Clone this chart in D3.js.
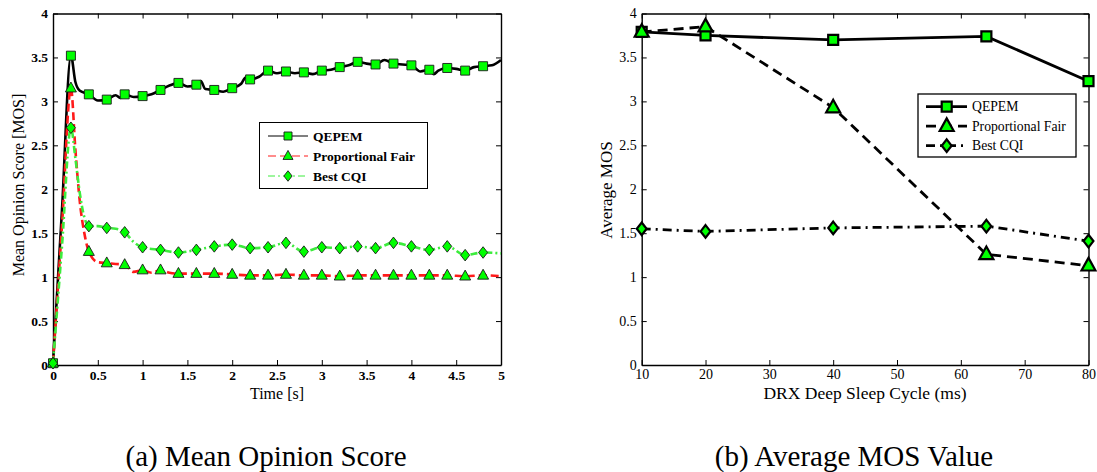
<!DOCTYPE html>
<html>
<head>
<meta charset="utf-8">
<script src="https://cdn.jsdelivr.net/npm/d3@7"></script>
<style>
  body { margin: 0; background: #fff; }
  svg { display: block; }
  text { font-family: "Liberation Serif", "Times New Roman", serif; fill: #000; }
</style>
</head>
<body>
<svg id="chart" width="1097" height="472"></svg>
<script>
// ---------- DATA: (a) Mean Opinion Score over time ----------
const seriesNames = ["QEPEM", "Proportional Fair", "Best CQI"];

const qepemTime = [0,0.1,0.2,0.25,0.3,0.4,0.5,0.6,0.7,0.75,0.8,0.9,1.0,1.1,1.2,1.3,1.4,1.5,1.6,1.65,1.7,1.8,1.9,2.0,2.1,2.15,2.2,2.3,2.4,2.5,2.6,2.7,2.8,2.9,3.0,3.1,3.2,3.3,3.4,3.5,3.6,3.7,3.8,3.9,4.0,4.1,4.2,4.25,4.3,4.4,4.5,4.6,4.7,4.8,4.9,5.0];
const qepemMos  = [0.02,1.76,3.52,3.22,3.12,3.08,3.01,3.02,3.07,3.04,3.08,3.05,3.06,3.08,3.13,3.18,3.21,3.17,3.19,3.23,3.14,3.13,3.11,3.15,3.20,3.27,3.25,3.28,3.35,3.32,3.34,3.32,3.33,3.31,3.35,3.36,3.39,3.41,3.45,3.43,3.42,3.47,3.43,3.42,3.41,3.34,3.36,3.31,3.35,3.38,3.37,3.35,3.39,3.40,3.41,3.47];

const pfTime = [0,0.1,0.2,0.25,0.3,0.35,0.4,0.5,0.6,0.7,0.8,0.9,1.0,1.1,1.2,1.3,1.4,1.6,1.8,2.0,2.2,2.4,2.6,2.8,3.0,3.2,3.4,3.6,3.8,4.0,4.2,4.4,4.6,4.8,5.0];
const pfMos  = [0.02,1.58,3.15,2.45,1.85,1.50,1.29,1.17,1.16,1.15,1.14,1.06,1.08,1.05,1.08,1.05,1.04,1.04,1.04,1.03,1.02,1.02,1.03,1.02,1.02,1.01,1.02,1.02,1.02,1.02,1.02,1.02,1.01,1.02,1.01];

const cqiTime = [0,0.1,0.2,0.25,0.3,0.35,0.4,0.5,0.6,0.7,0.8,0.9,1.0,1.2,1.4,1.6,1.8,2.0,2.2,2.4,2.6,2.8,3.0,3.2,3.4,3.6,3.8,4.0,4.2,4.4,4.6,4.8,5.0];
const cqiMos  = [0.02,1.35,2.70,2.35,1.95,1.68,1.58,1.58,1.56,1.55,1.51,1.40,1.34,1.31,1.28,1.31,1.35,1.37,1.33,1.34,1.39,1.29,1.34,1.33,1.35,1.33,1.39,1.35,1.31,1.35,1.25,1.28,1.27];

const timeTicks = [0,0.5,1,1.5,2,2.5,3,3.5,4,4.5,5];
const mosTicks  = [0,0.5,1,1.5,2,2.5,3,3.5,4];

// ---------- DATA: (b) Average MOS vs DRX deep sleep cycle ----------
const drxCycle   = [10, 20, 40, 64, 80];
const avgQepem   = [3.79, 3.75, 3.70, 3.74, 3.23];
const avgPf      = [3.79, 3.85, 2.93, 1.26, 1.13];
const avgCqi     = [1.55, 1.52, 1.56, 1.58, 1.41];
const drxTicks   = [10,20,30,40,50,60,70,80];

const captionA = "(a) Mean Opinion Score";
const captionB = "(b) Average MOS Value";

// ---------- helpers ----------
const svg = d3.select("#chart");
const GREEN = "#00ff00";

function markerPath(type, s) {
  if (type === "square") return `M${-s/2},${-s/2}h${s}v${s}h${-s}Z`;
  if (type === "triangle") { const h = s * 0.9; return `M0,${-h*0.62}L${s/2},${h*0.38}L${-s/2},${h*0.38}Z`; }
  if (type === "diamond") { const w = s*0.82, h = s*1.05; return `M0,${-h/2}L${w/2},0L0,${h/2}L${-w/2},0Z`; }
}
function onGrid(t) { return Math.abs(t*5 - Math.round(t*5)) < 1e-6 && t < 4.99; }

function frame(g, x, y, xTicks, yTicks, bold, fmtX, fmtY, fs, padX) {
  const [x0, x1] = x.range(), [y0, y1] = y.range();
  const gx = g.append("g").attr("transform", `translate(0,${y0})`)
    .call(d3.axisBottom(x).tickValues(xTicks).tickSizeInner(-5).tickSizeOuter(0).tickPadding(padX).tickFormat(fmtX));
  const gy = g.append("g").attr("transform", `translate(${x0},0)`)
    .call(d3.axisLeft(y).tickValues(yTicks).tickSizeInner(-5).tickSizeOuter(0).tickPadding(5).tickFormat(fmtY));
  g.append("g").attr("transform", `translate(0,${y1})`)
    .call(d3.axisTop(x).tickValues(xTicks).tickSizeInner(-5).tickSizeOuter(0).tickFormat(""));
  g.append("g").attr("transform", `translate(${x1},0)`)
    .call(d3.axisRight(y).tickValues(yTicks).tickSizeInner(-5).tickSizeOuter(0).tickFormat(""));
  g.selectAll(".domain").attr("stroke", "#000").attr("stroke-width", 1.4);
  g.selectAll(".tick line").attr("stroke", "#000").attr("stroke-width", 1);
  [gx, gy].forEach(a => a.selectAll("text")
    .style("font-family", '"Liberation Serif", serif')
    .style("font-size", fs + "px")
    .style("font-weight", bold ? "bold" : "normal")
    .attr("fill", "#000"));
}

// ---------- Chart (a) ----------
{
  const x = d3.scaleLinear().domain([0, 5]).range([53, 501]);
  const y = d3.scaleLinear().domain([0, 4]).range([365, 13.5]);
  const g = svg.append("g");
  frame(g, x, y, timeTicks, mosTicks, true, d3.format("~g"), d3.format("~g"), 13.5, 5);

  const series = [
    { name: seriesNames[0], t: qepemTime, v: qepemMos, color: "#000", dash: null, marker: "square", ms: 9, lw: 2.6 },
    { name: seriesNames[1], t: pfTime, v: pfMos, color: "#ff1a1a", dash: "8,4", marker: "triangle", ms: 11, lw: 2.6 },
    { name: seriesNames[2], t: cqiTime, v: cqiMos, color: "#3cec3c", dash: "7,3,2,3", marker: "diamond", ms: 11, lw: 2.6 }
  ];
  const line = d3.line().x(d => x(d[0])).y(d => y(d[1])).curve(d3.curveMonotoneX);
  series.forEach(s => {
    const pts = s.t.map((t, i) => [t, s.v[i]]);
    g.append("path").datum(pts).attr("d", line)
      .attr("fill", "none").attr("stroke", s.color).attr("stroke-width", s.lw)
      .attr("stroke-dasharray", s.dash).attr("stroke-linejoin", "round");
  });
  series.forEach(s => {
    const pts = s.t.map((t, i) => [t, s.v[i]]).filter(d => onGrid(d[0]));
    g.selectAll(null).data(pts).enter().append("path")
      .attr("d", markerPath(s.marker, s.ms))
      .attr("transform", d => `translate(${x(d[0])},${y(d[1])})`)
      .attr("fill", GREEN).attr("stroke", "#1a1a1a").attr("stroke-width", 0.9);
  });

  // legend
  const lg = g.append("g");
  lg.append("rect").attr("x", 259.5).attr("y", 122.5).attr("width", 168).attr("height", 66)
    .attr("fill", "#fff").attr("stroke", "#000").attr("stroke-width", 1);
  series.forEach((s, i) => {
    const yy = 136 + i * 20;
    lg.append("line").attr("x1", 268).attr("x2", 308).attr("y1", yy).attr("y2", yy)
      .attr("stroke", s.color).attr("stroke-width", 1).attr("stroke-dasharray", s.dash);
    lg.append("path").attr("d", markerPath(s.marker, s.ms - 1)).attr("transform", `translate(288,${yy})`)
      .attr("fill", GREEN).attr("stroke", "#1a1a1a").attr("stroke-width", 0.9);
    lg.append("text").attr("x", 313).attr("y", yy).attr("dy", "0.35em")
      .style("font-size", "13.5px").style("font-weight", "bold").text(s.name);
  });

  g.append("text").attr("x", 277).attr("y", 399).attr("text-anchor", "middle")
    .style("font-size", "16px").text("Time [s]");
  g.append("text").attr("transform", "translate(24,185) rotate(-90)").attr("text-anchor", "middle")
    .style("font-size", "16px").text("Mean Opinion Score [MOS]");
  g.append("text").attr("x", 266).attr("y", 466).attr("text-anchor", "middle")
    .style("font-size", "29px").text(captionA);
}

// ---------- Chart (b) ----------
{
  const x = d3.scaleLinear().domain([10, 80]).range([641.7, 1088.5]);
  const y = d3.scaleLinear().domain([0, 4]).range([365, 13.5]);
  const g = svg.append("g");
  frame(g, x, y, drxTicks, mosTicks, false, d3.format("~g"), d3.format("~g"), 14, 4);

  const series = [
    { name: seriesNames[0], v: avgQepem, dash: null, marker: "square", ms: 10 },
    { name: seriesNames[1], v: avgPf, dash: "10,6", marker: "triangle", ms: 14 },
    { name: seriesNames[2], v: avgCqi, dash: "9,5,2,5", marker: "diamond", ms: 12 }
  ];
  const line = d3.line().x(d => x(d[0])).y(d => y(d[1]));
  series.forEach(s => {
    const pts = drxCycle.map((c, i) => [c, s.v[i]]);
    g.append("path").datum(pts).attr("d", line)
      .attr("fill", "none").attr("stroke", "#000").attr("stroke-width", 2.8)
      .attr("stroke-dasharray", s.dash);
  });
  series.forEach(s => {
    const pts = drxCycle.map((c, i) => [c, s.v[i]]);
    g.selectAll(null).data(pts).enter().append("path")
      .attr("d", markerPath(s.marker, s.ms))
      .attr("transform", d => `translate(${x(d[0])},${y(d[1])})`)
      .attr("fill", GREEN).attr("stroke", "#000").attr("stroke-width", 2.2);
  });

  const lg = g.append("g");
  lg.append("rect").attr("x", 918).attr("y", 94).attr("width", 158).attr("height", 63)
    .attr("fill", "#fff").attr("stroke", "#000").attr("stroke-width", 1.3);
  series.forEach((s, i) => {
    const yy = 106.7 + i * 19.5;
    lg.append("line").attr("x1", 926).attr("x2", 967).attr("y1", yy).attr("y2", yy)
      .attr("stroke", "#000").attr("stroke-width", 2.8).attr("stroke-dasharray", s.dash);
    lg.append("path").attr("d", markerPath(s.marker, s.ms)).attr("transform", `translate(946.7,${yy})`)
      .attr("fill", GREEN).attr("stroke", "#000").attr("stroke-width", 2.2);
    lg.append("text").attr("x", 972).attr("y", yy).attr("dy", "0.35em")
      .style("font-size", "13.7px").text(s.name);
  });

  g.append("text").attr("x", 865).attr("y", 399).attr("text-anchor", "middle")
    .style("font-size", "17.5px").text("DRX Deep Sleep Cycle (ms)");
  g.append("text").attr("transform", "translate(612,190) rotate(-90)").attr("text-anchor", "middle")
    .style("font-size", "17px").text("Average MOS");
  g.append("text").attr("x", 854).attr("y", 466).attr("text-anchor", "middle")
    .style("font-size", "29px").text(captionB);
}
</script>
</body>
</html>
